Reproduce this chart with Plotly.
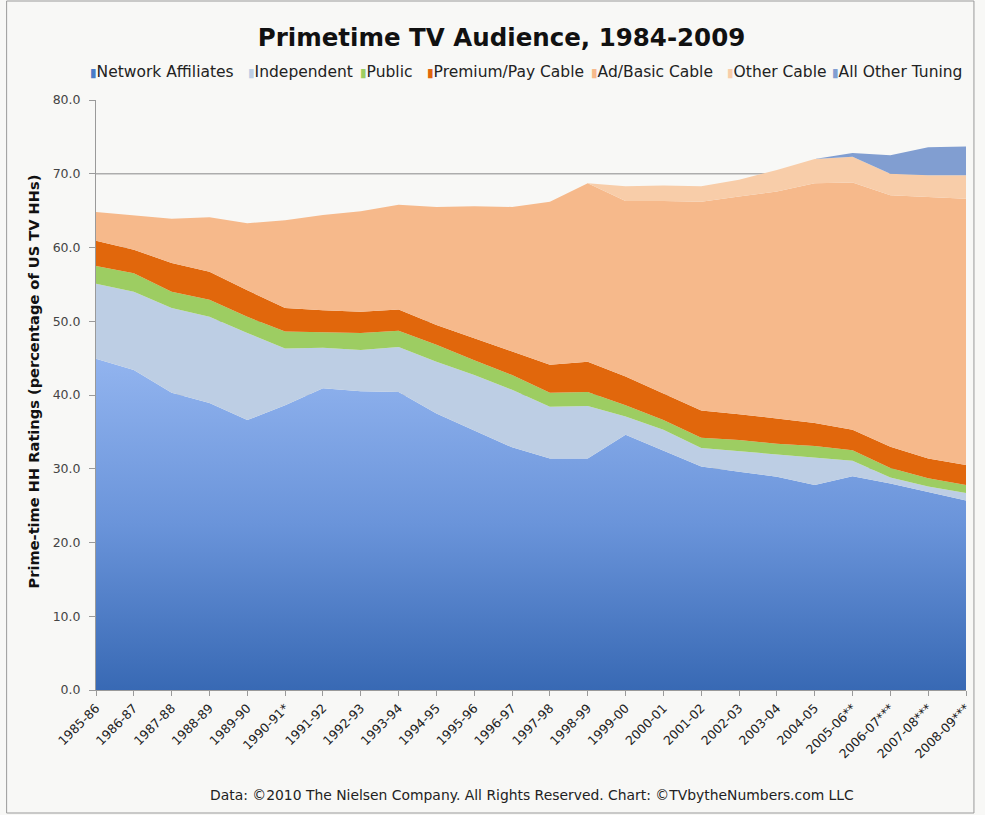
import plotly.graph_objects as go

# Season labels (x categories)
seasons = ["1985-86", "1986-87", "1987-88", "1988-89", "1989-90", "1990-91*",
           "1991-92", "1992-93", "1993-94", "1994-95", "1995-96", "1996-97",
           "1997-98", "1998-99", "1999-00", "2000-01", "2001-02", "2002-03",
           "2003-04", "2004-05", "2005-06**", "2006-07***", "2007-08***", "2008-09***"]

# Prime-time HH ratings per viewing source (stacked in this order)
network_affiliates = [44.9, 43.4, 40.3, 38.9, 36.6, 38.6, 40.9, 40.5, 40.4, 37.5, 35.2, 32.9,
                      31.4, 31.4, 34.6, 32.5, 30.3, 29.6, 28.9, 27.8, 29.0, 28.0, 26.9, 25.7]
independent = [10.2, 10.6, 11.5, 11.7, 11.8, 7.7, 5.5, 5.6, 6.1, 7.0, 7.5, 7.8,
               7.0, 7.1, 2.5, 2.8, 2.5, 2.8, 3.1, 3.8, 2.1, 0.8, 0.7, 1.0]
public = [2.4, 2.5, 2.2, 2.3, 2.2, 2.3, 2.1, 2.3, 2.2, 2.3, 2.0, 2.0,
          1.9, 1.9, 1.5, 1.3, 1.4, 1.5, 1.4, 1.5, 1.4, 1.3, 1.1, 1.1]
premium_pay_cable = [3.4, 3.2, 3.9, 3.8, 3.6, 3.2, 3.0, 2.9, 2.9, 2.7, 3.0, 3.2,
                     3.8, 4.1, 3.9, 3.6, 3.7, 3.5, 3.4, 3.1, 2.8, 2.9, 2.7, 2.7]
ad_basic_cable = [3.9, 4.7, 6.0, 7.4, 9.1, 11.9, 12.9, 13.6, 14.2, 16.0, 17.9, 19.6,
                  22.1, 24.2, 23.8, 26.1, 28.3, 29.5, 30.8, 32.5, 33.5, 34.1, 35.5, 36.1]
other_cable = [0, 0, 0, 0, 0, 0, 0, 0, 0, 0, 0, 0,
               0, 0, 2.0, 2.1, 2.1, 2.3, 2.9, 3.3, 3.5, 2.9, 2.9, 3.2]
all_other_tuning = [0, 0, 0, 0, 0, 0, 0, 0, 0, 0, 0, 0,
                    0, 0, 0, 0, 0, 0, 0, 0, 0.5, 2.5, 3.8, 3.9]

y_ticks = [0, 10, 20, 30, 40, 50, 60, 70, 80]

FONT = "DejaVu Sans, Verdana, sans-serif"
BG = "#f8f8f6"

# figure geometry (px) used to place the free-standing texts
W, H = 985, 815
ML, MR, MT, MB = 96, 13, 100, 125
PW, PH = W - ML - MR, H - MT - MB


def px_x(px):
    return (px - ML) / PW


def px_y(py):
    return (H - MB - py) / PH


series = [
    ("Network Affiliates", network_affiliates, "#4a7cc7"),
    ("Independent", independent, "#bdcee4"),
    ("Public", public, "#9dcd62"),
    ("Premium/Pay Cable", premium_pay_cable, "#e1670c"),
    ("Ad/Basic Cable", ad_basic_cable, "#f6b98b"),
    ("Other Cable", other_cable, "#f8cda9"),
    ("All Other Tuning", all_other_tuning, "#819ed1"),
]

fig = go.Figure()
for name, vals, color in series:
    kw = dict(fillcolor=color)
    if name == "Network Affiliates":
        kw = dict(fillcolor=color,
                  fillgradient=dict(type="vertical", start=0, stop=45,
                                    colorscale=[[0, "#3869b4"], [0.5, "#6a94da"],
                                                [1, "#92b4ef"]]))
    fig.add_trace(go.Scatter(
        x=seasons, y=vals, name=name, mode="lines", stackgroup="all",
        line=dict(width=0, color=color), hoverinfo="x+y+name",
        showlegend=False, **kw))

# horizontal gridlines sit underneath the stacked areas
for v in y_ticks[1:-1]:
    fig.add_shape(type="line", xref="paper", yref="y", x0=0, x1=1, y0=v, y1=v,
                  line=dict(color="#adadad", width=1.5), layer="below")

# thin frame around the whole chart
fig.add_shape(type="rect", xref="paper", yref="paper",
              x0=px_x(6), x1=px_x(980), y0=px_y(813), y1=px_y(1),
              line=dict(color="#9a9a9a", width=1), layer="below")

# key row above the plot: small colour swatch followed by the series name
legend_left = [88, 247, 360, 427, 592, 729, 835]
for (name, _, color), lx in zip(series, legend_left):
    fig.add_annotation(
        text=f'<span style="color:{color};font-size:12px">▮</span>{name}',
        xref="paper", yref="paper", x=px_x(lx), y=px_y(72),
        xanchor="left", yanchor="middle", showarrow=False,
        font=dict(family=FONT, size=15.5, color="#222"))

fig.add_annotation(
    text="<b>Prime-time HH Ratings (percentage of US TV HHs)</b>",
    xref="paper", yref="paper", x=px_x(33), y=px_y(381), textangle=-90,
    xanchor="center", yanchor="middle", showarrow=False,
    font=dict(family=FONT, size=14.6, color="#111"))

fig.add_annotation(
    text="Data: ©2010 The Nielsen Company. All Rights Reserved. Chart: ©TVbytheNumbers.com LLC",
    xref="paper", yref="paper", x=px_x(535), y=px_y(795), xanchor="center", yanchor="middle",
    showarrow=False, font=dict(family=FONT, size=13.9, color="#222"))

fig.update_layout(
    width=W, height=H,
    margin=dict(l=ML, r=MR, t=MT, b=MB),
    paper_bgcolor=BG, plot_bgcolor=BG,
    font=dict(family=FONT, color="#222"),
    title=dict(text="<b>Primetime TV Audience, 1984-2009</b>",
               x=501.5 / W, xanchor="center", y=1 - 37 / H, yanchor="middle",
               font=dict(family=FONT, size=24.5, color="#111")),
    showlegend=False,
)

fig.update_xaxes(
    type="category", range=[0, len(seasons) - 1], showgrid=False,
    showline=True, linecolor="#9a9a9a", linewidth=1,
    ticks="outside", ticklen=5, tickcolor="#9a9a9a",
    tickangle=-45, tickfont=dict(family=FONT, size=12.5, color="#222"))

fig.update_yaxes(
    range=[0, 80], tickvals=y_ticks, tickformat=".1f", showgrid=False, zeroline=False,
    showline=True, linecolor="#9a9a9a", linewidth=1,
    ticks="outside", ticklen=6, tickcolor="#9a9a9a", ticklabelstandoff=6,
    tickfont=dict(family=FONT, size=12.5, color="#444"))

fig.write_html("out.html")
